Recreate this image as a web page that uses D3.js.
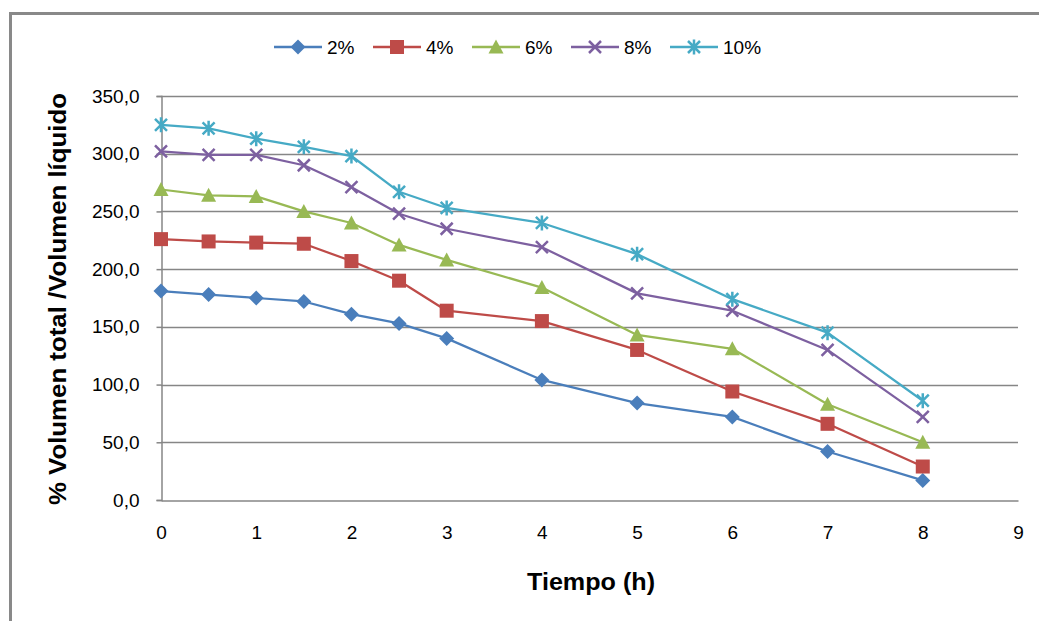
<!DOCTYPE html>
<html>
<head>
<meta charset="utf-8">
<script src="https://cdn.jsdelivr.net/npm/d3@7/dist/d3.min.js"></script>
<style>
  html, body { margin: 0; padding: 0; background: #fff; }
  svg { display: block; font-family: "Liberation Sans", Arial, sans-serif; }
</style>
</head>
<body>
<svg id="chart" width="1039" height="621"></svg>
<script>
// Tiempo (h) at which each sample was measured
const tiempo = [0, 0.5, 1, 1.5, 2, 2.5, 3, 4, 5, 6, 7, 8];

// % volumen total / volumen líquido for each concentration
const serie2  = [181, 178, 175, 172, 161, 153, 140, 104, 84, 72, 42, 17];
const serie4  = [226, 224, 223, 222, 207, 190, 164, 155, 130, 94, 66, 29];
const serie6  = [269, 264, 263, 250, 240, 221, 208, 184, 143, 131, 83, 50];
const serie8  = [302, 299, 299, 290, 271, 248, 235, 219, 179, 164, 130, 72];
const serie10 = [325, 322, 313, 306, 298, 267, 253, 240, 213, 174, 145, 86];

const seriesNames = ["2%", "4%", "6%", "8%", "10%"];
const yTicks = [0, 50, 100, 150, 200, 250, 300, 350];
const xTicks = [0, 1, 2, 3, 4, 5, 6, 7, 8, 9];

const series = [
  { name: seriesNames[0], values: serie2,  color: "#4a7ebb", marker: "diamond" },
  { name: seriesNames[1], values: serie4,  color: "#be4b48", marker: "square" },
  { name: seriesNames[2], values: serie6,  color: "#98b954", marker: "triangle" },
  { name: seriesNames[3], values: serie8,  color: "#7d60a0", marker: "cross" },
  { name: seriesNames[4], values: serie10, color: "#46aac5", marker: "star" }
];

const svg = d3.select("#chart");
const plot = { left: 161, right: 1018, top: 96, bottom: 500 };

const x = d3.scaleLinear().domain([0, 9]).range([plot.left, plot.right]);
const y = d3.scaleLinear().domain([0, 350]).range([plot.bottom, plot.top]);

// Outer chart frame (top and left edges visible)
svg.append("path")
  .attr("d", "M10.5,621 V13.5 H1039")
  .attr("fill", "none")
  .attr("stroke", "#898989")
  .attr("stroke-width", 3);

// Horizontal gridlines
svg.append("g")
  .selectAll("line")
  .data(yTicks.filter(d => d > 0))
  .join("line")
  .attr("x1", plot.left)
  .attr("x2", plot.right)
  .attr("y1", d => Math.round(y(d)) + 0.5)
  .attr("y2", d => Math.round(y(d)) + 0.5)
  .attr("stroke", "#868686")
  .attr("stroke-width", 1.5);

// Y axis
const yAxis = d3.axisLeft(y)
  .tickValues(yTicks)
  .tickSize(5)
  .tickPadding(17)
  .tickFormat(d => d3.format(".1f")(d).replace(".", ","));
const gy = svg.append("g")
  .attr("transform", `translate(${plot.left + 0.5},0)`)
  .call(yAxis);
gy.select(".domain").attr("stroke", "#868686").attr("stroke-width", 1.5);
gy.selectAll(".tick line").attr("stroke", "#868686").attr("stroke-width", 1.5);
gy.selectAll(".tick text")
  .attr("fill", "#000")
  .attr("font-size", 19)
  .attr("font-family", "'Liberation Sans', Arial, sans-serif");

// X axis
const xAxis = d3.axisBottom(x)
  .tickValues(xTicks)
  .tickSize(0)
  .tickPadding(25)
  .tickFormat(d3.format("d"));
const gx = svg.append("g")
  .attr("transform", `translate(0,${plot.bottom + 0.5})`)
  .call(xAxis);
gx.select(".domain").attr("stroke", "#868686").attr("stroke-width", 1.5);
gx.selectAll(".tick text")
  .attr("fill", "#000")
  .attr("font-size", 19)
  .attr("font-family", "'Liberation Sans', Arial, sans-serif");

// Axis titles
svg.append("text")
  .attr("transform", `translate(66,299) rotate(-90)`)
  .attr("text-anchor", "middle")
  .attr("font-size", 23)
  .attr("font-weight", "bold")
  .attr("textLength", 412)
  .attr("lengthAdjust", "spacingAndGlyphs")
  .text("% Volumen total /Volumen líquido");

svg.append("text")
  .attr("x", 591)
  .attr("y", 590)
  .attr("text-anchor", "middle")
  .attr("font-size", 23)
  .attr("font-weight", "bold")
  .attr("textLength", 128)
  .attr("lengthAdjust", "spacingAndGlyphs")
  .text("Tiempo (h)");

// Marker drawing
function drawMarker(g, type, color) {
  switch (type) {
    case "diamond":
      g.append("path").attr("d", "M0,-7.5 L7.5,0 L0,7.5 L-7.5,0 Z").attr("fill", color);
      break;
    case "square":
      g.append("rect").attr("x", -7).attr("y", -7).attr("width", 14).attr("height", 14).attr("fill", color);
      break;
    case "triangle":
      g.append("path").attr("d", "M0,-7.5 L7.5,6.5 L-7.5,6.5 Z").attr("fill", color);
      break;
    case "cross":
      g.append("path").attr("d", "M-6,-6 L6,6 M-6,6 L6,-6")
        .attr("stroke", color).attr("stroke-width", 2.5).attr("fill", "none");
      break;
    case "star":
      g.append("path").attr("d", "M-6,-6 L6,6 M-6,6 L6,-6 M0,-7.5 V7.5")
        .attr("stroke", color).attr("stroke-width", 2.5).attr("fill", "none");
      break;
  }
}

const line = d3.line()
  .x((d, i) => x(tiempo[i]))
  .y(d => y(d));

series.forEach(s => {
  const g = svg.append("g");
  g.append("path")
    .datum(s.values)
    .attr("d", line)
    .attr("fill", "none")
    .attr("stroke", s.color)
    .attr("stroke-width", 2.25)
    .attr("stroke-linejoin", "round");
  g.selectAll("g.pt")
    .data(s.values)
    .join("g")
    .attr("class", "pt")
    .attr("transform", (d, i) => `translate(${x(tiempo[i])},${y(d)})`)
    .each(function () { drawMarker(d3.select(this), s.marker, s.color); });
});

// Legend
const legendX = d3.scalePoint().domain(seriesNames).range([274, 670]);
const legend = svg.append("g").attr("transform", "translate(0,47)");
series.forEach(s => {
  const lx = legendX(s.name);
  const item = legend.append("g").attr("transform", `translate(${lx},0)`);
  item.append("line")
    .attr("x1", 0).attr("x2", 48)
    .attr("stroke", s.color).attr("stroke-width", 2.5);
  drawMarker(item.append("g").attr("transform", "translate(24,0)"), s.marker, s.color);
  item.append("text")
    .attr("x", 53)
    .attr("y", 7)
    .attr("font-size", 19)
    .text(s.name);
});
</script>
</body>
</html>
